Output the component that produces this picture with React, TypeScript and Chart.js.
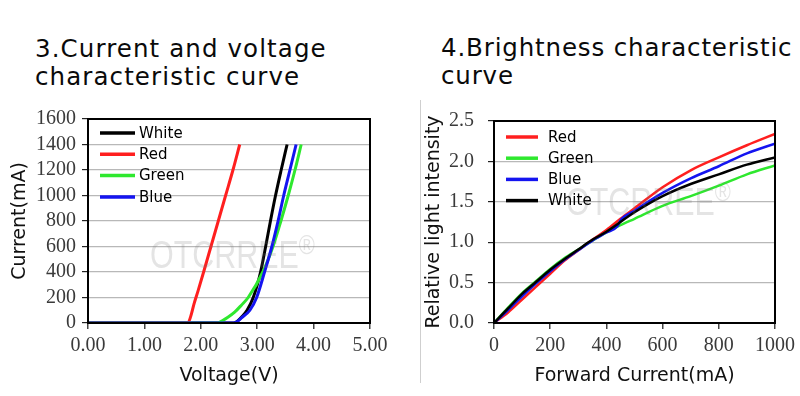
import React, { useEffect, useRef } from "react";
import { Chart, registerables } from "chart.js";
Chart.register(...registerables);

// ---------- Chart 3: current vs voltage ----------
const ivTitle = ["3.Current and voltage", "characteristic curve"];
const ivLegendOrder = ["White", "Red", "Green", "Blue"];
const ivXTicks = [0, 1, 2, 3, 4, 5];
const ivYTicks = [0, 200, 400, 600, 800, 1000, 1200, 1400, 1600];

const whiteV = [0, 2.58, 2.65, 2.74, 2.82, 2.93, 3.06, 3.15, 3.235, 3.325, 3.425, 3.53];
const whiteI = [0, 0, 15, 55, 100, 200, 400, 600, 800, 1000, 1200, 1400];
const redV = [0, 1.77, 1.82, 1.88, 1.95, 2.05, 2.18, 2.31, 2.44, 2.57, 2.69];
const redI = [0, 0, 50, 150, 250, 400, 600, 800, 1000, 1200, 1400];
const greenV = [0, 2.29, 2.38, 2.48, 2.6, 2.72, 2.84, 3.1, 3.28, 3.42, 3.55, 3.67, 3.78];
const greenI = [0, 0, 18, 45, 85, 140, 200, 400, 600, 800, 1000, 1200, 1400];
const blueV = [0, 2.58, 2.64, 2.72, 2.87, 2.99, 3.13, 3.26, 3.37, 3.47, 3.58, 3.69];
const blueI = [0, 0, 10, 40, 100, 200, 400, 600, 800, 1000, 1200, 1400];

// ---------- Chart 4: brightness ----------
const brTitle = ["4.Brightness characteristic", "curve"];
const brLegendOrder = ["Red", "Green", "Blue", "White"];
const brXTicks = [0, 200, 400, 600, 800, 1000];
const brYTicks = [0, 0.5, 1.0, 1.5, 2.0, 2.5];

const brRedI = [0, 50, 100, 150, 200, 250, 300, 350, 400, 450, 500, 600, 700, 800, 900, 1000];
const brRed = [0, 0.13, 0.29, 0.45, 0.61, 0.77, 0.9, 1.03, 1.15, 1.29, 1.42, 1.68, 1.89, 2.05, 2.2, 2.34];
const brGreenI = [0, 50, 100, 150, 200, 250, 300, 350, 400, 450, 500, 600, 700, 800, 900, 1000];
const brGreen = [0, 0.19, 0.37, 0.52, 0.67, 0.8, 0.91, 1.02, 1.12, 1.21, 1.29, 1.45, 1.57, 1.7, 1.84, 1.95];
const brBlueI = [0, 50, 100, 150, 200, 250, 300, 350, 400, 440, 450, 500, 600, 700, 800, 900, 1000];
const brBlue = [0, 0.16, 0.33, 0.49, 0.64, 0.78, 0.9, 1.02, 1.12, 1.2, 1.27, 1.39, 1.61, 1.79, 1.94, 2.1, 2.22];
const brWhiteI = [0, 50, 100, 150, 200, 250, 300, 350, 400, 500, 600, 700, 800, 900, 1000];
const brWhite = [0, 0.18, 0.36, 0.51, 0.66, 0.79, 0.91, 1.03, 1.13, 1.37, 1.57, 1.72, 1.84, 1.96, 2.05];

const COLORS: Record<string, string> = {
  White: "#000000",
  Red: "#ff1f1f",
  Green: "#2ee82e",
  Blue: "#1414f0",
};

const pts = (xs: number[], ys: number[]) => xs.map((x, i) => ({ x, y: ys[i] }));

const TICK_FONT = { family: "'Liberation Serif', serif", size: 20 };
const TITLE_FONT = { family: "'DejaVu Sans', sans-serif", size: 19 };

function framePlugin(legendOrder: string[], lg: { x: number; len: number; tx: number; y0: number; dy: number }) {
  return {
    id: "frameLegend",
    afterDraw(chart: any) {
      const { ctx, chartArea: a } = chart;
      ctx.save();
      ctx.strokeStyle = "#000";
      ctx.lineWidth = 2;
      ctx.strokeRect(a.left, a.top, a.right - a.left, a.bottom - a.top);
      ctx.font = "15px 'DejaVu Sans', sans-serif";
      ctx.textBaseline = "middle";
      ctx.fillStyle = "#000";
      legendOrder.forEach((name, i) => {
        const ds = chart.data.datasets.find((d: any) => d.label === name);
        const y = a.top + lg.y0 + i * lg.dy;
        ctx.strokeStyle = ds.borderColor;
        ctx.lineWidth = 3.5;
        ctx.beginPath();
        ctx.moveTo(a.left + lg.x, y);
        ctx.lineTo(a.left + lg.x + lg.len, y);
        ctx.stroke();
        ctx.fillText(name, a.left + lg.tx, y + 1);
      });
      ctx.restore();
    },
  };
}

function makeScales(opts: any) {
  return {
    x: {
      type: "linear",
      min: opts.xMin,
      max: opts.xMax,
      afterBuildTicks: (s: any) => { s.ticks = opts.xTicks.map((v: number) => ({ value: v })); },
      afterFit: (s: any) => { s.height = opts.xH; },
      ticks: { font: TICK_FONT, color: "#3a3a3a", padding: 5, maxRotation: 0, autoSkip: false, callback: opts.xFmt },
      grid: { display: true, drawOnChartArea: false, drawTicks: true, tickLength: 6, tickColor: "#444", lineWidth: 1.5 },
      border: { display: false },
      title: { display: true, text: opts.xTitle, font: TITLE_FONT, color: "#111", padding: { top: 0, bottom: 9 } },
    },
    y: {
      type: "linear",
      min: opts.yMin,
      max: opts.yMax,
      afterBuildTicks: (s: any) => { s.ticks = opts.yTicks.map((v: number) => ({ value: v })); },
      afterFit: (s: any) => { s.width = opts.yW; },
      ticks: { font: TICK_FONT, color: "#3a3a3a", padding: opts.yPad, autoSkip: false, callback: opts.yFmt },
      grid: { display: true, color: "#b8b8b8", lineWidth: 1.2, drawTicks: true, tickLength: 6, tickColor: "#222" },
      border: { display: false },
      title: { display: true, text: opts.yTitle, font: TITLE_FONT, color: "#111", padding: { top: opts.yTitlePad, bottom: 0 } },
    },
  };
}

function useChart(ref: React.RefObject<HTMLCanvasElement>, build: () => any) {
  useEffect(() => {
    if (!ref.current) return;
    const chart = new Chart(ref.current, build());
    return () => chart.destroy();
  }, []);
}

export default function App() {
  const c1 = useRef<HTMLCanvasElement>(null);
  const c2 = useRef<HTMLCanvasElement>(null);

  useChart(c1, () => ({
    type: "line",
    data: {
      datasets: [
        { label: "White", data: pts(whiteV, whiteI), order: 3 },
        { label: "Red", data: pts(redV, redI), order: 2 },
        { label: "Green", data: pts(greenV, greenI), order: 1 },
        { label: "Blue", data: pts(blueV, blueI), order: 0 },
      ].map((d) => ({ ...d, borderColor: COLORS[d.label], borderWidth: 3, pointRadius: 0, cubicInterpolationMode: "monotone", fill: false })),
    },
    options: {
      responsive: false,
      animation: false,
      layout: { padding: { top: 24, right: 50, left: 0, bottom: 0 } },
      plugins: { legend: { display: false }, tooltip: { enabled: false } },
      scales: makeScales({
        xMin: 0, xMax: 5, xTicks: ivXTicks, xH: 73, xFmt: (v: any) => Number(v).toFixed(2), xTitle: "Voltage(V)",
        yMin: 0, yMax: 1600, yTicks: ivYTicks, yW: 88, yPad: 6, yFmt: (v: any) => String(v), yTitle: "Current(mA)", yTitlePad: 9,
      }),
    },
    plugins: [framePlugin(ivLegendOrder, { x: 12, len: 35, tx: 51, y0: 14, dy: 21.3 })],
  }));

  useChart(c2, () => ({
    type: "line",
    data: {
      datasets: [
        { label: "Red", data: pts(brRedI, brRed), order: 3 },
        { label: "Green", data: pts(brGreenI, brGreen), order: 2 },
        { label: "Blue", data: pts(brBlueI, brBlue), order: 1 },
        { label: "White", data: pts(brWhiteI, brWhite), order: 0 },
      ].map((d) => ({ ...d, borderColor: COLORS[d.label], borderWidth: 2.5, pointRadius: 0, cubicInterpolationMode: "monotone", fill: false })),
    },
    options: {
      responsive: false,
      animation: false,
      layout: { padding: { top: 22, right: 24, left: 0, bottom: 0 } },
      plugins: { legend: { display: false }, tooltip: { enabled: false } },
      scales: makeScales({
        xMin: 0, xMax: 1000, xTicks: brXTicks, xH: 73, xFmt: (v: any) => String(v), xTitle: "Forward Current(mA)",
        yMin: 0, yMax: 2.5, yTicks: brYTicks, yW: 72, yPad: 14, yFmt: (v: any) => Number(v).toFixed(1), yTitle: "Relative light intensity", yTitlePad: 1,
      }),
    },
    plugins: [framePlugin(brLegendOrder, { x: 12, len: 32, tx: 54, y0: 16, dy: 21.2 })],
  }));

  const titleStyle: React.CSSProperties = {
    position: "absolute",
    fontFamily: "'DejaVu Sans', sans-serif",
    fontSize: 24.5,
    letterSpacing: 1.1,
    lineHeight: "28px",
    color: "#0a0a0a",
    whiteSpace: "nowrap",
  };
  const wm: React.CSSProperties = {
    position: "absolute",
    fontFamily: "'Liberation Sans', sans-serif",
    fontSize: 39,
    color: "rgba(120,120,120,0.2)",
    pointerEvents: "none",
    whiteSpace: "nowrap",
    transform: "scaleX(0.78)",
    transformOrigin: "left top",
  };

  return (
    <div style={{ position: "absolute", left: 0, top: 0, width: 800, height: 396, background: "#fff", overflow: "hidden" }}>
      <div style={{ ...titleStyle, left: 35, top: 35 }}>
        {ivTitle[0]}
        <br />
        {ivTitle[1]}
      </div>
      <div style={{ ...titleStyle, left: 441, top: 34, letterSpacing: 0.85 }}>
        {brTitle[0]}
        <br />
        {brTitle[1]}
      </div>
      <canvas ref={c1} width={420} height={301} style={{ position: "absolute", left: 0, top: 95 }} />
      <canvas ref={c2} width={378} height={301} style={{ position: "absolute", left: 422, top: 95 }} />
      <div style={{ position: "absolute", left: 420, top: 100, width: 1, height: 283, background: "#cfcfcf" }} />
      <div style={{ ...wm, left: 150, top: 229 }}>
        OTCRREE<sup style={{ fontSize: 28 }}>®</sup>
      </div>
      <div style={{ ...wm, left: 566, top: 176 }}>
        OTCRREE<sup style={{ fontSize: 28 }}>®</sup>
      </div>
    </div>
  );
}
